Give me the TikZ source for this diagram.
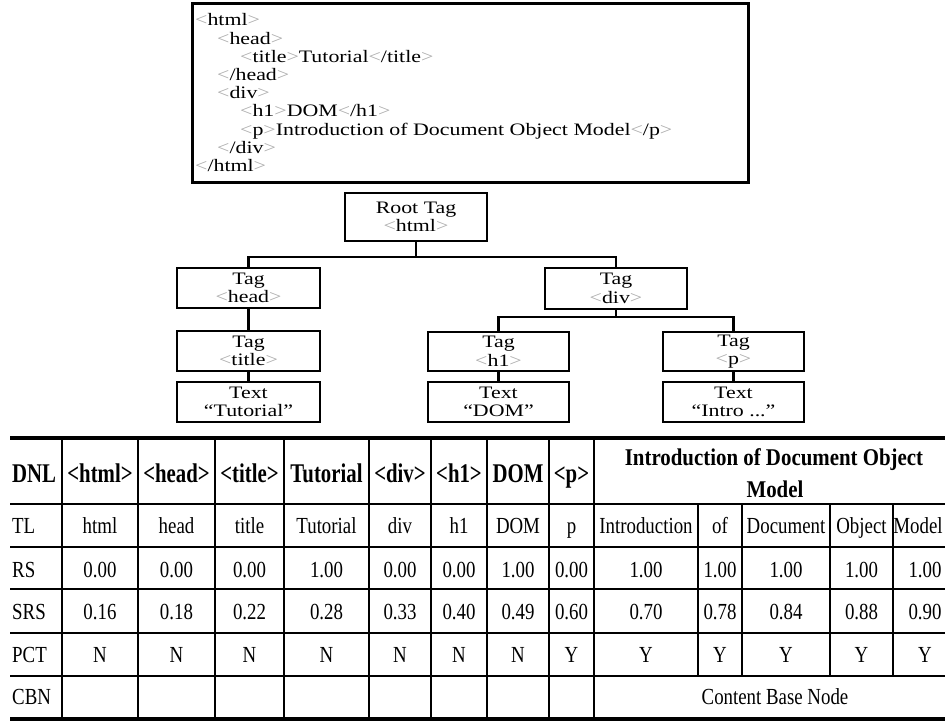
\documentclass[tikz,border=0pt]{standalone}
\usepackage{fontspec}
\setmainfont{Liberation Serif}
\newfontfamily\wideserif[FakeStretch=1.25]{Liberation Serif}
\newfontfamily\narrowserif[FakeStretch=0.82]{Liberation Serif}
\newfontfamily\headserif[FakeStretch=0.77]{Liberation Serif}
\newfontfamily\longheadserif[FakeStretch=0.87]{Liberation Serif}
\newcommand\treefont{\wideserif\fontsize{17.5}{18.5}\selectfont}
\newcommand\cellfont{\narrowserif\fontsize{23}{24}\selectfont}
\newcommand\hdfont{\headserif\bfseries\fontsize{27}{28}\selectfont}
\newcommand\longhdfont{\longheadserif\bfseries\fontsize{24}{25}\selectfont}
% angle brackets of markup shown in light grey
\newcommand\tagL{{\color{gray!65}<}}
\newcommand\tagR{{\color{gray!65}>}}
\newcommand\mk[1]{\tagL#1\tagR}
\tikzset{
  tagbox/.style={draw, line width=2.8pt, inner sep=0pt, align=center, font=\treefont},
  wire/.style={line width=2.8pt},
  codeline/.style={anchor=base west, inner sep=0pt, font=\treefont},
  hd/.style={anchor=base, inner sep=0pt, font=\hdfont},
  cell/.style={anchor=base, inner sep=0pt, font=\cellfont},
  heavyrule/.style={line width=4pt},
  rowrule/.style={line width=1.4pt},
  colrule/.style={line width=1.1pt}
}
\begin{document}
\begin{tikzpicture}[x=1pt,y=-1pt]
\useasboundingbox (0,0) rectangle (945,722);
\clip (0,0) rectangle (945,722);

% ---------- markup listing ----------
\node[draw, line width=3pt, minimum width=556pt, minimum height=179pt, inner sep=0pt] (code) at (470,93.5) {};
\node[codeline] (c1) at (195,26)    {\mk{html}};
\node[codeline] (c2) at (217,44.2)  {\mk{head}};
\node[codeline] (c3) at (240,62.4)  {\mk{title}Tutorial\mk{/title}};
\node[codeline] (c4) at (217,80.6)  {\mk{/head}};
\node[codeline] (c5) at (217,98.8)  {\mk{div}};
\node[codeline] (c6) at (240,117)   {\mk{h1}DOM\mk{/h1}};
\node[codeline] (c7) at (240,135.2) {\mk{p}Introduction of Document Object Model\mk{/p}};
\node[codeline] (c8) at (217,153.4) {\mk{/div}};
\node[codeline] (c9) at (195,171.6) {\mk{/html}};

% ---------- DOM tree ----------
\node[tagbox, minimum width=142pt, minimum height=48pt] (root)  at (416,217)   {Root Tag\\\mk{html}};
\node[tagbox, minimum width=143pt, minimum height=40pt] (head)  at (248.5,288) {Tag\\\mk{head}};
\node[tagbox, minimum width=142pt, minimum height=41pt] (div)   at (616,288.5) {Tag\\\mk{div}};
\node[tagbox, minimum width=143pt, minimum height=40pt] (title) at (248.5,351) {Tag\\\mk{title}};
\node[tagbox, minimum width=143pt, minimum height=40pt] (ttut)  at (248.5,402) {Text\\“Tutorial”};
\node[tagbox, minimum width=141pt, minimum height=39pt] (hone)  at (498.5,351.5) {Tag\\\mk{h1}};
\node[tagbox, minimum width=141pt, minimum height=40pt] (tdom)  at (498.5,402) {Text\\“DOM”};
\node[tagbox, minimum width=141pt, minimum height=39pt] (para)  at (733.5,351.5) {Tag\\\mk{p}};
\node[tagbox, minimum width=141pt, minimum height=40pt] (tintro) at (733.5,402) {Text\\“Intro ...”};

\coordinate (jroot) at (416,257);
\coordinate (jdiv)  at (616,317);
\draw[wire] (root.south) -- (jroot);
\draw[wire] (head.north) |- (jroot) -| (div.north);
\draw[wire] (div.south) -- (jdiv);
\draw[wire] (hone.north) |- (jdiv) -| (para.north);
\draw[wire] (head.south) -- (title.north);
\draw[wire] (title.south) -- (ttut.north);
\draw[wire] (hone.south) -- (tdom.north);
\draw[wire] (para.south) -- (tintro.north);

% ---------- table rules ----------
\coordinate (tl) at (10,438);
\coordinate (tr) at (945,438);
\coordinate (bl) at (10,719);
\coordinate (br) at (945,719);
\draw[heavyrule] (tl) -- (tr);
\draw[heavyrule] (bl) -- (br);
\foreach \yy in {504,547,589,633,676}
  \draw[rowrule] (10,\yy) -- (945,\yy);
\foreach \xx in {62,138,215,284,369,431,487,549,594}
  \draw[colrule] (\xx,438) -- (\xx,719);
\foreach \xx in {698,742,830,893}
  \draw[colrule] (\xx,504) -- (\xx,676);

% ---------- table header ----------
\node[hd, anchor=base west] (hdnl) at (12,482) {DNL};
\node[hd] (hhtml)  at (100,482)   {<html>};
\node[hd] (hhead)  at (176.5,482) {<head>};
\node[hd] (htitle) at (249.5,482) {<title>};
\node[hd] (htut)   at (326.5,482) {Tutorial};
\node[hd] (hdiv)   at (400,482)   {<div>};
\node[hd] (hhone)  at (459,482)   {<h1>};
\node[hd] (hdom)   at (518,482)   {DOM};
\node[hd] (hp)     at (571.5,482) {<p>};
\node[hd, font=\longhdfont] (hlongA) at (774,465) {Introduction of Document Object};
\node[hd, font=\longhdfont] (hlongB) at (775,497) {Model};

% ---------- table body ----------
\foreach \lab/\yy in {TL/533,RS/577,SRS/619,PCT/662,CBN/704}
  \node[cell, anchor=base west] (lab-\lab) at (12,\yy) {\lab};

\foreach \xx/\tlv/\rsv/\srsv/\pctv [count=\i] in
  {100/html/0.00/0.16/N,
   176.5/head/0.00/0.18/N,
   249.5/title/0.00/0.22/N,
   326.5/Tutorial/1.00/0.28/N,
   400/div/0.00/0.33/N,
   459/h1/0.00/0.40/N,
   518/DOM/1.00/0.49/N,
   571.5/p/0.00/0.60/Y,
   646/Introduction/1.00/0.70/Y,
   720/of/1.00/0.78/Y,
   786/Document/1.00/0.84/Y,
   861.5/Object/1.00/0.88/Y}
{
  \node[cell] (tl-\i)  at (\xx,533) {\tlv};
  \node[cell] (rs-\i)  at (\xx,577) {\rsv};
  \node[cell] (srs-\i) at (\xx,619) {\srsv};
  \node[cell] (pct-\i) at (\xx,662) {\pctv};
}
% last column sits against the right edge
\node[cell] (tl-13)  at (918,533) {Model};
\node[cell] (rs-13)  at (925,577) {1.00};
\node[cell] (srs-13) at (925,619) {0.90};
\node[cell] (pct-13) at (925,662) {Y};
\node[cell] (cbn) at (775,704) {Content Base Node};
\end{tikzpicture}
\end{document}
